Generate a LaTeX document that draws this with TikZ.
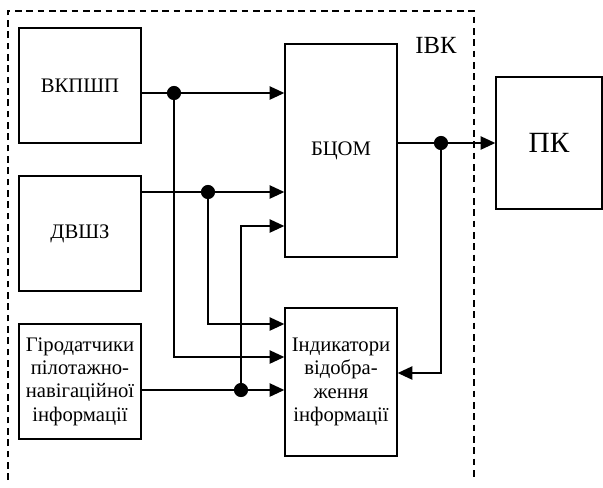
\documentclass[tikz,border=0pt]{standalone}
\usepackage{fontspec}
\setmainfont{Liberation Serif}
\usetikzlibrary{arrows.meta,positioning,calc}

\begin{document}
\begin{tikzpicture}[x=0.75pt,y=-0.75pt,
    blk/.style={draw,line width=1.1pt,inner sep=2pt,align=center,
      font=\fontsize{15.5}{17.5}\selectfont},
    sig/.style={line width=1.1pt,-{Triangle[length=11pt,width=10pt]}},
    jdot/.style={fill=black}]
  \useasboundingbox (0,0) rectangle (603,487);
  % complex boundary
  \draw[line width=1.1pt,dash pattern=on 5pt off 3.5pt]
    (8,480) -- (8,11) -- (474,11) -- (474,480);
  \node[font=\fontsize{18.5}{21}\selectfont] (ivk) at (436,45) {ІВК};
  % sources
  \node[blk,minimum width=91.5pt,minimum height=86.25pt] (vkp) at (80,85.5) {ВКПШП};
  \node[blk,minimum width=91.5pt,minimum height=86.25pt] (dvsh) at (80,233.5) {ДВШЗ};
  \node[blk,minimum width=91.5pt,minimum height=86.25pt] (giro) at (80,381.5)
    {Гіродатчики\\пілотажно-\\навігаційної\\інформації};
  % computer and displays
  \node[blk,minimum width=84pt,minimum height=159.75pt] (bcom) at (341,150.5) {БЦОМ};
  \node[blk,minimum width=84pt,minimum height=111pt] (ind) at (341,382)
    {Індикатори\\відобра-\\ження\\інформації};
  \node[blk,minimum width=79.5pt,minimum height=99pt,
    font=\fontsize{22}{26}\selectfont] (pk) at (549,143) {ПК};
  % junctions
  \coordinate (d1) at (174,93);
  \coordinate (d2) at (208,192);
  \coordinate (d3) at (241,390);
  \coordinate (d4) at (441,143);
  % links
  \draw[sig] (vkp.east |- d1) -- (bcom.west |- d1);
  \draw[sig] (dvsh.east |- d2) -- (bcom.west |- d2);
  \draw[sig] (giro.east |- d3) -- (ind.west |- d3);
  \draw[sig] (d1) |- (ind.west |- 0,357);
  \draw[sig] (d2) |- (ind.west |- 0,324);
  \draw[sig] (d3) |- (bcom.west |- 0,226);
  \draw[sig] (bcom.east |- d4) -- (pk.west);
  \draw[sig] (d4) |- (ind.east |- 0,373);
  \foreach \j in {d1,d2,d3,d4}
    \fill[jdot] (\j) circle (5.3pt);
\end{tikzpicture}
\end{document}
